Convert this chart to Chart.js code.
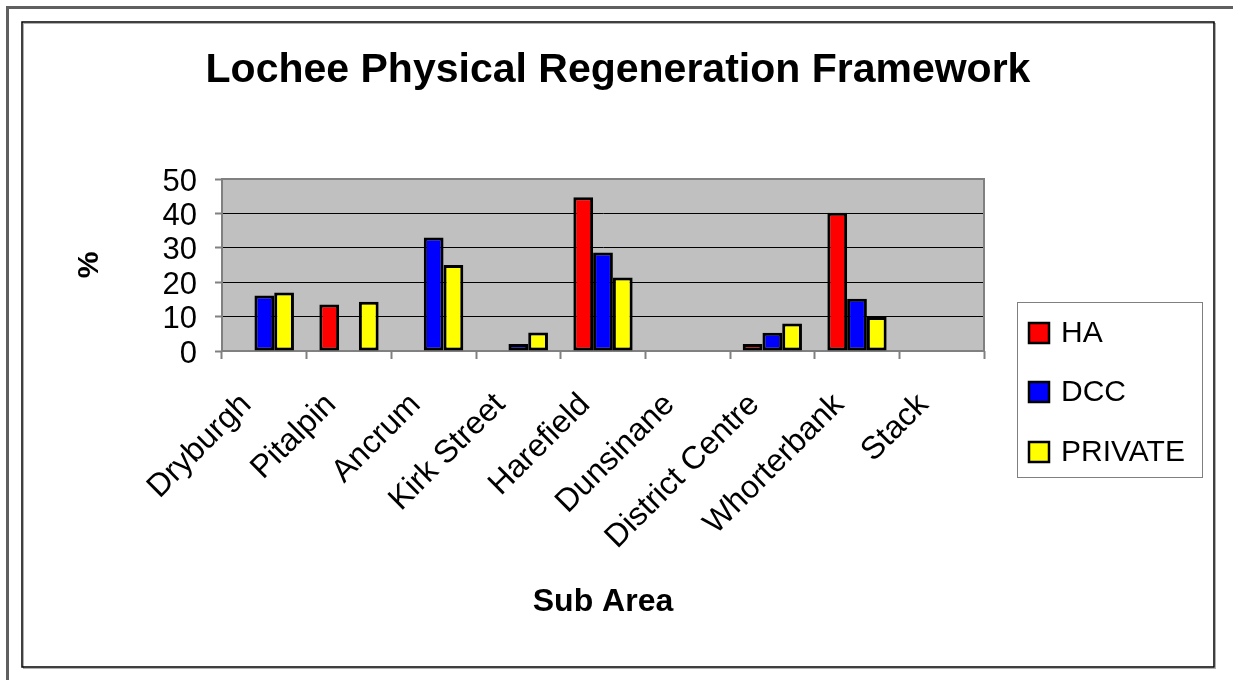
<!DOCTYPE html>
<html lang="en">
  <head>
    <meta charset="utf-8" />
    <title>Lochee Physical Regeneration Framework</title>
    <style>
      * {
        margin: 0;
        padding: 0;
      }
      body {
        background: white;
      }
      .chartBox {
        width: 1233px;
        height: 680px;
      }
    </style>
  </head>
  <body>
    <div class="chartBox">
      <canvas id="myChart" width="1233" height="680"></canvas>
    </div>

    <script src="https://cdn.jsdelivr.net/npm/chart.js@4.2.1/dist/chart.umd.min.js"></script>

    <script>
      const categories = [
        "Dryburgh",
        "Pitalpin",
        "Ancrum",
        "Kirk Street",
        "Harefield",
        "Dunsinane",
        "District Centre",
        "Whorterbank",
        "Stack",
      ];
      const haValues = [0, 13.5, 0, 0, 44.7, 0, 2, 40.2, 0];
      const dccValues = [16.1, 0, 33, 2, 28.6, 0, 5.3, 15.2, 0];
      const privateValues = [17, 14.3, 25, 5.4, 21.4, 0, 8, 9.9, 0];
      const yTicks = [0, 10, 20, 30, 40, 50];

      const FONT = "'Liberation Sans', Arial, sans-serif";

      const data = {
        labels: categories,
        datasets: [
          { label: "HA", data: haValues, backgroundColor: "#ff0000" },
          { label: "DCC", data: dccValues, backgroundColor: "#0000ff" },
          { label: "PRIVATE", data: privateValues, backgroundColor: "#ffff00" },
        ],
      };

      // frames, grey plot background, titles
      const pageDecor = {
        id: "pageDecor",
        beforeDraw(chart) {
          const { ctx, chartArea } = chart;
          ctx.save();
          ctx.fillStyle = "white";
          ctx.fillRect(0, 0, chart.width, chart.height);

          ctx.strokeStyle = "#606060";
          ctx.lineWidth = 3;
          ctx.strokeRect(7.5, 7.5, 1240, 690);

          ctx.strokeStyle = "#b0b0b0";
          ctx.lineWidth = 1;
          ctx.strokeRect(23.5, 23.5, 1192, 645);
          ctx.strokeStyle = "black";
          ctx.lineWidth = 1.5;
          ctx.strokeRect(22, 22, 1192, 645);

          ctx.fillStyle = "#c0c0c0";
          ctx.fillRect(
            chartArea.left,
            chartArea.top,
            chartArea.right - chartArea.left,
            chartArea.bottom - chartArea.top
          );

          ctx.fillStyle = "black";
          ctx.textAlign = "center";
          ctx.textBaseline = "middle";
          ctx.font = "bold 41px " + FONT;
          ctx.fillText("Lochee Physical Regeneration Framework", 618, 71);

          ctx.font = "bold 32px " + FONT;
          ctx.fillText("Sub Area", 603, 602);

          ctx.translate(90, 265);
          ctx.rotate(-Math.PI / 2);
          ctx.font = "bold 30px " + FONT;
          ctx.fillText("%", 0, 0);
          ctx.restore();
        },
        beforeDatasetsDraw(chart) {
          const { ctx, chartArea } = chart;
          ctx.save();
          ctx.strokeStyle = "#808080";
          ctx.lineWidth = 2;
          ctx.strokeRect(
            chartArea.left,
            chartArea.top,
            chartArea.right - chartArea.left,
            chartArea.bottom - chartArea.top
          );
          ctx.restore();
        },
      };

      const boxLegend = {
        id: "boxLegend",
        afterDraw(chart) {
          const { ctx, data } = chart;
          ctx.save();
          ctx.strokeStyle = "#808080";
          ctx.lineWidth = 1;
          ctx.strokeRect(1017.5, 302.5, 185, 175);

          const rowY = [333, 392, 452];
          ctx.font = "30px " + FONT;
          ctx.textAlign = "left";
          ctx.textBaseline = "middle";
          data.datasets.forEach((ds, i) => {
            ctx.fillStyle = ds.backgroundColor;
            ctx.fillRect(1029, rowY[i] - 10, 20, 20);
            ctx.strokeStyle = "black";
            ctx.lineWidth = 2.5;
            ctx.strokeRect(1029, rowY[i] - 10, 20, 20);
            ctx.fillStyle = "black";
            ctx.fillText(ds.label, 1061, rowY[i] + 1);
          });
          ctx.restore();
        },
      };

      const config = {
        type: "bar",
        data: data,
        options: {
          responsive: false,
          animation: false,
          layout: {
            padding: { top: 179, left: 0, right: 249, bottom: 0 },
          },
          datasets: {
            bar: {
              borderColor: "black",
              borderWidth: 3,
              borderSkipped: false,
              barPercentage: 1,
              categoryPercentage: 0.7,
            },
          },
          scales: {
            x: {
              afterFit(scale) {
                scale.height = 329;
              },
              grid: {
                offset: true,
                drawOnChartArea: false,
                tickLength: 8,
                tickColor: "#808080",
                tickWidth: 2,
              },
              border: { display: false },
              ticks: {
                color: "black",
                font: { family: FONT, size: 32 },
                minRotation: 45,
                maxRotation: 45,
                padding: 27,
                labelOffset: -18,
                autoSkip: false,
              },
            },
            y: {
              min: 0,
              max: 50,
              afterFit(scale) {
                scale.width = 222;
              },
              afterBuildTicks(scale) {
                scale.ticks = yTicks.map((v) => ({ value: v }));
              },
              grid: {
                color: "black",
                lineWidth: 1,
                tickLength: 7,
                tickColor: "#808080",
                tickWidth: 2,
              },
              border: { display: true, color: "#808080", width: 2 },
              ticks: {
                color: "black",
                font: { family: FONT, size: 31 },
                padding: 18,
                labelOffset: 3,
                autoSkip: false,
                stepSize: 10,
              },
            },
          },
          plugins: {
            legend: { display: false },
            tooltip: { enabled: false },
            title: { display: false },
          },
        },
        plugins: [pageDecor, boxLegend],
      };

      const myChart = new Chart(document.getElementById("myChart"), config);
    </script>
  </body>
</html>
